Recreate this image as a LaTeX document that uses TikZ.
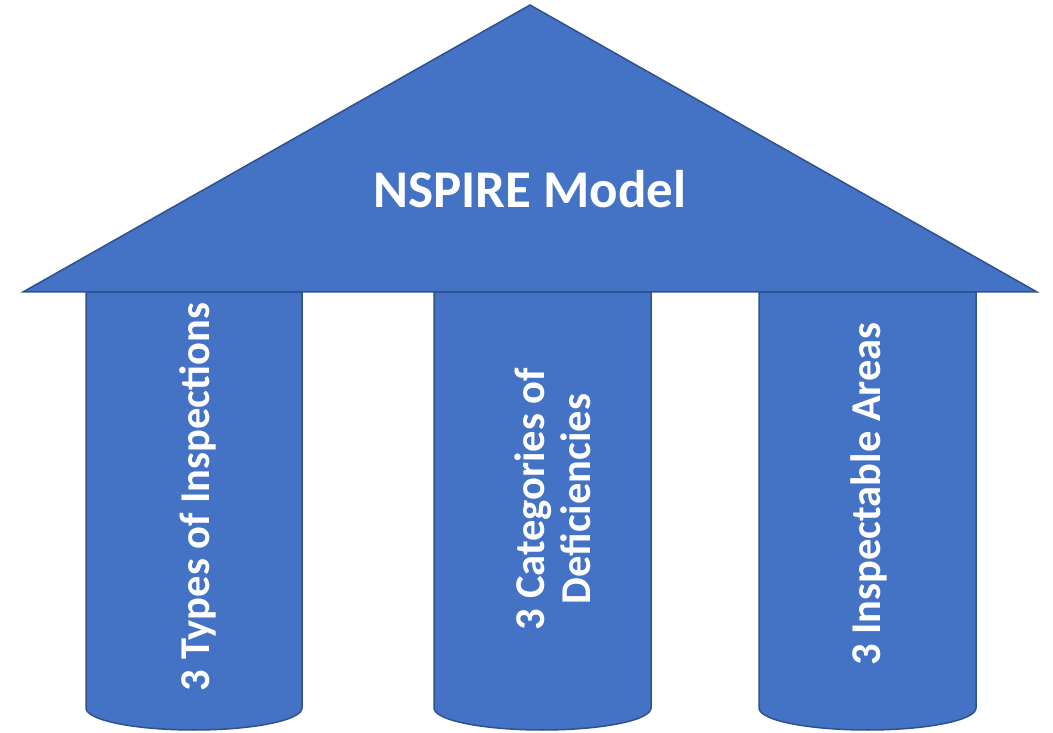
\documentclass[tikz,border=0pt]{standalone}
\usepackage{fontspec}
\setmainfont{Carlito}
\definecolor{pillarblue}{HTML}{4472C4}
\definecolor{pillaredge}{HTML}{2F528F}
\tikzset{
    part/.style={fill=pillarblue,draw=pillaredge,line width=1.5pt,line join=miter},
    pillartext/.style={text=white,font=\fontsize{42.5}{46}\selectfont\bfseries,rotate=90,inner sep=0pt},
}
\begin{document}
\begin{tikzpicture}[x=1pt,y=1pt]
        \useasboundingbox(0,0)rectangle(1053,732);
        % pillars
        \draw[part](86,440)--(86,24)arc[start angle=180,end angle=360,x radius=108,y radius=22]--(302,440)--cycle;
        \draw[part](434,440)--(434,24)arc[start angle=180,end angle=360,x radius=108.5,y radius=22]--(651,440)--cycle;
        \draw[part](759,440)--(759,24)arc[start angle=180,end angle=360,x radius=108.5,y radius=22]--(976,440)--cycle;
        % roof
        \draw[part](23,440)--(530,727)--(1037,440)--cycle;
        \node[text=white,font=\fontsize{53}{60}\selectfont\bfseries,anchor=base,inner sep=0pt](title)at(530,524){NSPIRE Model};
        \node[pillartext,anchor=base](types)at(209,235){3 Types of Inspections};
        \node[pillartext,align=center](categories)at(553,233){3 Categories of\\Deficiencies};
        \node[pillartext,anchor=base](areas)at(880,238){3 Inspectable Areas};
    \end{tikzpicture}
\end{document}
